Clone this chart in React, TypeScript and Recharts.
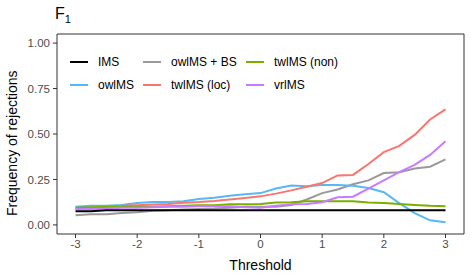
import React from 'react';
import { LineChart, Line, XAxis, YAxis, ReferenceArea } from 'recharts';

const thresholds = [-3, -2.75, -2.5, -2.25, -2, -1.75, -1.5, -1.25, -1, -0.75, -0.5, -0.25, 0, 0.25, 0.5, 0.75, 1, 1.25, 1.5, 1.75, 2, 2.25, 2.5, 2.75, 3];
const ims = [0.075, 0.075, 0.08, 0.08, 0.08, 0.08, 0.08, 0.08, 0.08, 0.08, 0.08, 0.08, 0.08, 0.08, 0.08, 0.08, 0.08, 0.08, 0.08, 0.08, 0.08, 0.08, 0.08, 0.08, 0.08];
const owlmsBs = [0.053, 0.058, 0.059, 0.066, 0.07, 0.078, 0.08, 0.085, 0.088, 0.09, 0.095, 0.1, 0.1, 0.1, 0.11, 0.14, 0.175, 0.195, 0.224, 0.245, 0.285, 0.29, 0.31, 0.32, 0.36];
const owlms = [0.1, 0.105, 0.105, 0.11, 0.12, 0.126, 0.126, 0.13, 0.143, 0.15, 0.16, 0.168, 0.175, 0.2, 0.217, 0.213, 0.22, 0.22, 0.215, 0.203, 0.18, 0.12, 0.065, 0.025, 0.015];
const twlmsLoc = [0.09, 0.09, 0.095, 0.105, 0.108, 0.112, 0.115, 0.122, 0.126, 0.132, 0.14, 0.148, 0.157, 0.172, 0.19, 0.21, 0.23, 0.272, 0.275, 0.335, 0.4, 0.435, 0.495, 0.58, 0.635];
const twlmsNon = [0.095, 0.097, 0.1, 0.1, 0.1, 0.1, 0.102, 0.105, 0.108, 0.108, 0.113, 0.113, 0.115, 0.123, 0.125, 0.13, 0.13, 0.13, 0.13, 0.123, 0.12, 0.115, 0.11, 0.105, 0.102];
const vrlms = [0.088, 0.088, 0.09, 0.094, 0.094, 0.097, 0.1, 0.1, 0.102, 0.102, 0.102, 0.097, 0.095, 0.105, 0.113, 0.115, 0.125, 0.152, 0.155, 0.2, 0.245, 0.29, 0.33, 0.385, 0.46];

const xTicks = [-3, -2, -1, 0, 1, 2, 3];
const yTicks = [0, 0.25, 0.5, 0.75, 1];

const series = [
  { key: 'ims', name: 'IMS', color: '#000000', values: ims },
  { key: 'owlms', name: 'owlMS', color: '#56B9F5', values: owlms },
  { key: 'owlmsBs', name: 'owlMS + BS', color: '#999999', values: owlmsBs },
  { key: 'twlmsLoc', name: 'twlMS (loc)', color: '#F8766D', values: twlmsLoc },
  { key: 'twlmsNon', name: 'twlMS (non)', color: '#7CAE00', values: twlmsNon },
  { key: 'vrlms', name: 'vrlMS', color: '#C77CFF', values: vrlms },
];

const drawOrder = ['owlmsBs', 'owlms', 'twlmsLoc', 'twlmsNon', 'vrlms', 'ims'];

const data = thresholds.map((t, i) => {
  const row: Record<string, number> = { t };
  series.forEach((s) => {
    row[s.key] = s.values[i];
  });
  return row;
});

const legendCols = [
  { x: 0, items: [series[0], series[1]] },
  { x: 73, items: [series[2], series[3]] },
  { x: 176, items: [series[4], series[5]] },
];

const LegendBox = () => (
  <div style={{ position: 'absolute', left: 70, top: 55, width: 300, height: 40, fontFamily: 'Liberation Sans, Arial, sans-serif', fontSize: 12, color: '#000' }}>
    {legendCols.map((col) =>
      col.items.map((s, ri) => (
        <div key={s.key} style={{ position: 'absolute', left: col.x, top: ri * 23, height: 14, display: 'flex', alignItems: 'center', whiteSpace: 'nowrap' }}>
          <div style={{ width: 18, height: 2, background: s.color, marginRight: 10 }} />
          <span>{s.name}</span>
        </div>
      ))
    )}
  </div>
);

export default function App() {
  return (
    <div style={{ position: 'absolute', left: 0, top: 0, width: 472, height: 280, background: '#fff', fontFamily: 'Liberation Sans, Arial, sans-serif' }}>
      <div style={{ position: 'absolute', left: 55, top: 5, fontSize: 16, color: '#000' }}>
        F<sub style={{ fontSize: 11 }}>1</sub>
      </div>
      <LineChart width={472} height={280} data={data} margin={{ top: 34, right: 8, bottom: 0, left: 0 }}>
        <XAxis
          dataKey="t"
          type="number"
          domain={[-3.3, 3.3]}
          ticks={xTicks}
          height={46}
          axisLine={false}
          tickLine={{ stroke: '#333333' }}
          tickSize={4}
          tickMargin={2}
          tick={{ fill: '#4D4D4D', fontSize: 11.5 }}
          label={{ value: 'Threshold', position: 'insideBottom', offset: 10, fill: '#000', fontSize: 14 }}
        />
        <YAxis
          type="number"
          domain={[-0.05, 1.05]}
          ticks={yTicks}
          tickFormatter={(v: number) => v.toFixed(2)}
          axisLine={false}
          tickLine={{ stroke: '#333333' }}
          tickSize={4}
          tickMargin={3}
          width={57}
          tick={{ fill: '#4D4D4D', fontSize: 11.5 }}
          label={{ value: 'Frequency of rejections', angle: -90, position: 'insideLeft', offset: 12, dy: 82, fill: '#000', fontSize: 14 }}
        />
        <ReferenceArea x1={-3.3} x2={3.3} y1={-0.05} y2={1.05} fill="none" stroke="#333333" strokeWidth={1} ifOverflow="visible" />
        {drawOrder.map((k) => {
          const s = series.find((x) => x.key === k)!;
          return (
            <Line key={s.key} dataKey={s.key} name={s.name} stroke={s.color} strokeWidth={2} dot={false} type="linear" isAnimationActive={false} />
          );
        })}
      </LineChart>
      <LegendBox />
    </div>
  );
}
